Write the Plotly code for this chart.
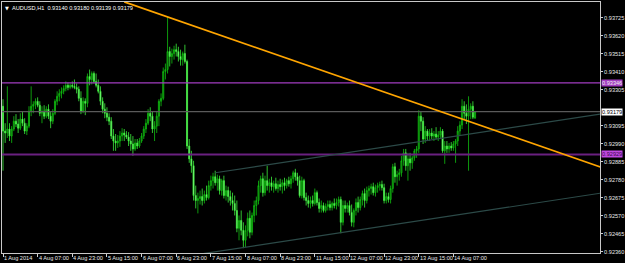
import plotly.graph_objects as go

bars = list(range(219))

opens = [
0.93210, 0.93065, 0.93054, 0.93077, 0.93036, 0.93077, 0.93123, 0.93106, 0.93082, 0.93135,
0.93111, 0.93065, 0.93094, 0.93181, 0.93210, 0.93221, 0.93239, 0.93216, 0.93169, 0.93181,
0.93152, 0.93193, 0.93152, 0.93123, 0.93169, 0.93239, 0.93268, 0.93285, 0.93297, 0.93314,
0.93332, 0.93320, 0.93332, 0.93326, 0.93320, 0.93309, 0.93256, 0.93181, 0.93239, 0.93227,
0.93384, 0.93366, 0.93401, 0.93355, 0.93332, 0.93297, 0.93239, 0.93193, 0.93169, 0.93146,
0.93123, 0.93036, 0.93007, 0.92996, 0.93007, 0.93036, 0.93054, 0.93042, 0.93030, 0.93007,
0.92990, 0.92961, 0.92996, 0.92978, 0.93007, 0.93036, 0.93077, 0.93111, 0.93169, 0.93152,
0.93077, 0.93094, 0.93152, 0.93239, 0.93256, 0.93413, 0.93424, 0.93529, 0.93500, 0.93517,
0.93540, 0.93529, 0.93500, 0.93482, 0.93517, 0.93471, 0.92978, 0.92903, 0.92863, 0.92689,
0.92660, 0.92672, 0.92683, 0.92660, 0.92695, 0.92677, 0.92747, 0.92776, 0.92799, 0.92764,
0.92787, 0.92718, 0.92776, 0.92689, 0.92718, 0.92683, 0.92660, 0.92643, 0.92602, 0.92498,
0.92544, 0.92486, 0.92428, 0.92486, 0.92556, 0.92475, 0.92573, 0.92631, 0.92660, 0.92747,
0.92787, 0.92706, 0.92776, 0.92747, 0.92764, 0.92741, 0.92758, 0.92730, 0.92753, 0.92741,
0.92764, 0.92747, 0.92776, 0.92758, 0.92787, 0.92822, 0.92799, 0.92776, 0.92689, 0.92776,
0.92677, 0.92660, 0.92643, 0.92660, 0.92643, 0.92706, 0.92648, 0.92614, 0.92631, 0.92602,
0.92625, 0.92637, 0.92619, 0.92643, 0.92631, 0.92648, 0.92666, 0.92533, 0.92631, 0.92614,
0.92631, 0.92590, 0.92533, 0.92602, 0.92648, 0.92619, 0.92666, 0.92701, 0.92660, 0.92718,
0.92730, 0.92741, 0.92706, 0.92735, 0.92747, 0.92753, 0.92735, 0.92660, 0.92683, 0.92666,
0.92730, 0.92857, 0.92799, 0.92811, 0.92822, 0.92892, 0.92938, 0.92863, 0.92903, 0.92880,
0.92909, 0.92950, 0.92961, 0.93152, 0.93123, 0.93019, 0.93065, 0.93036, 0.93054, 0.93036,
0.93048, 0.93030, 0.93042, 0.93065, 0.92950, 0.92978, 0.92961, 0.92978, 0.92967, 0.92990,
0.93007, 0.93065, 0.93100, 0.93210, 0.93169, 0.93152, 0.93193, 0.93210, 0.93140,
]

highs = [
0.93251, 0.93111, 0.93326, 0.93111, 0.93094, 0.93152, 0.93164, 0.93135, 0.93169, 0.93181,
0.93140, 0.93111, 0.93210, 0.93326, 0.93239, 0.93256, 0.93262, 0.93239, 0.93210, 0.93216,
0.93210, 0.93221, 0.93181, 0.93193, 0.93251, 0.93297, 0.93309, 0.93320, 0.93332, 0.93355,
0.93349, 0.93343, 0.93355, 0.93366, 0.93343, 0.93326, 0.93297, 0.93262, 0.93256, 0.93401,
0.93424, 0.93413, 0.93413, 0.93401, 0.93366, 0.93326, 0.93262, 0.93227, 0.93204, 0.93169,
0.93146, 0.93077, 0.93048, 0.93042, 0.93065, 0.93082, 0.93077, 0.93065, 0.93059, 0.93048,
0.93036, 0.93019, 0.93019, 0.93025, 0.93054, 0.93094, 0.93135, 0.93193, 0.93204, 0.93181,
0.93123, 0.93181, 0.93251, 0.93285, 0.93436, 0.93459, 0.93731, 0.93557, 0.93546, 0.93563,
0.93575, 0.93557, 0.93540, 0.93529, 0.93569, 0.93482, 0.93019, 0.92950, 0.92892, 0.92747,
0.92706, 0.92718, 0.92730, 0.92718, 0.92747, 0.92776, 0.92805, 0.92822, 0.92834, 0.92811,
0.92805, 0.92787, 0.92805, 0.92747, 0.92741, 0.92718, 0.92706, 0.92689, 0.92660, 0.92573,
0.92602, 0.92533, 0.92515, 0.92590, 0.92602, 0.92590, 0.92660, 0.92683, 0.92776, 0.92805,
0.92822, 0.92805, 0.92863, 0.92787, 0.92799, 0.92776, 0.92793, 0.92776, 0.92787, 0.92782,
0.92793, 0.92787, 0.92799, 0.92805, 0.92834, 0.92845, 0.92822, 0.92805, 0.92799, 0.92787,
0.92706, 0.92689, 0.92683, 0.92689, 0.92730, 0.92718, 0.92672, 0.92660, 0.92648, 0.92643,
0.92660, 0.92660, 0.92654, 0.92672, 0.92672, 0.92683, 0.92683, 0.92660, 0.92660, 0.92648,
0.92660, 0.92637, 0.92614, 0.92672, 0.92683, 0.92683, 0.92718, 0.92730, 0.92741, 0.92747,
0.92758, 0.92764, 0.92753, 0.92764, 0.92770, 0.92776, 0.92758, 0.92706, 0.92706, 0.92747,
0.92874, 0.92880, 0.92834, 0.92845, 0.92921, 0.92961, 0.92961, 0.92938, 0.92938, 0.92921,
0.92961, 0.92978, 0.93187, 0.93181, 0.93146, 0.93094, 0.93077, 0.93077, 0.93082, 0.93065,
0.93088, 0.93065, 0.93088, 0.93077, 0.93007, 0.93007, 0.92996, 0.93001, 0.93007, 0.93019,
0.93094, 0.93123, 0.93251, 0.93239, 0.93221, 0.93268, 0.93227, 0.93239, 0.93180,
]

lows = [
0.92834, 0.92996, 0.93025, 0.93007, 0.92996, 0.93065, 0.93088, 0.93054, 0.93071, 0.93094,
0.93048, 0.93042, 0.93082, 0.93152, 0.93169, 0.93193, 0.93204, 0.93152, 0.93111, 0.93135,
0.93140, 0.93135, 0.93082, 0.93106, 0.93158, 0.93216, 0.93239, 0.93256, 0.93280, 0.93297,
0.93303, 0.93309, 0.93314, 0.93309, 0.93285, 0.93239, 0.93164, 0.93169, 0.93158, 0.93204,
0.93332, 0.93337, 0.93343, 0.93320, 0.93285, 0.93216, 0.93169, 0.93140, 0.93123, 0.93100,
0.93019, 0.92950, 0.92950, 0.92967, 0.92973, 0.93007, 0.93007, 0.93019, 0.92978, 0.92950,
0.92921, 0.92950, 0.92961, 0.92967, 0.92996, 0.93019, 0.93054, 0.93100, 0.93123, 0.93054,
0.93007, 0.93054, 0.93094, 0.93210, 0.93245, 0.93366, 0.93401, 0.93442, 0.93459, 0.93482,
0.93500, 0.93471, 0.93447, 0.93447, 0.93459, 0.92961, 0.92880, 0.92822, 0.92660, 0.92614,
0.92585, 0.92637, 0.92631, 0.92643, 0.92660, 0.92666, 0.92718, 0.92730, 0.92747, 0.92718,
0.92695, 0.92689, 0.92672, 0.92660, 0.92648, 0.92631, 0.92602, 0.92573, 0.92475, 0.92428,
0.92457, 0.92382, 0.92388, 0.92451, 0.92440, 0.92457, 0.92533, 0.92573, 0.92637, 0.92706,
0.92683, 0.92689, 0.92718, 0.92706, 0.92718, 0.92706, 0.92718, 0.92706, 0.92718, 0.92701,
0.92718, 0.92730, 0.92741, 0.92730, 0.92764, 0.92776, 0.92747, 0.92677, 0.92672, 0.92660,
0.92631, 0.92619, 0.92614, 0.92625, 0.92631, 0.92631, 0.92590, 0.92590, 0.92590, 0.92590,
0.92602, 0.92602, 0.92602, 0.92614, 0.92608, 0.92625, 0.92469, 0.92515, 0.92590, 0.92590,
0.92573, 0.92509, 0.92504, 0.92573, 0.92590, 0.92602, 0.92631, 0.92619, 0.92643, 0.92683,
0.92695, 0.92689, 0.92683, 0.92706, 0.92718, 0.92718, 0.92643, 0.92643, 0.92648, 0.92643,
0.92706, 0.92764, 0.92747, 0.92776, 0.92799, 0.92863, 0.92834, 0.92776, 0.92834, 0.92845,
0.92892, 0.92909, 0.92938, 0.93065, 0.92990, 0.92996, 0.93007, 0.93007, 0.93019, 0.93007,
0.93019, 0.93007, 0.93019, 0.92938, 0.92874, 0.92938, 0.92938, 0.92950, 0.92950, 0.92880,
0.92978, 0.93036, 0.93077, 0.93135, 0.93106, 0.92834, 0.93135, 0.93135, 0.93139,
]

closes = [
0.93065, 0.93054, 0.93077, 0.93036, 0.93077, 0.93123, 0.93106, 0.93082, 0.93135, 0.93111,
0.93065, 0.93094, 0.93181, 0.93210, 0.93221, 0.93239, 0.93216, 0.93169, 0.93181, 0.93152,
0.93193, 0.93152, 0.93123, 0.93169, 0.93239, 0.93268, 0.93285, 0.93297, 0.93314, 0.93332,
0.93320, 0.93332, 0.93326, 0.93320, 0.93309, 0.93256, 0.93181, 0.93239, 0.93227, 0.93384,
0.93366, 0.93401, 0.93355, 0.93332, 0.93297, 0.93239, 0.93193, 0.93169, 0.93146, 0.93123,
0.93036, 0.93007, 0.92996, 0.93007, 0.93036, 0.93054, 0.93042, 0.93030, 0.93007, 0.92990,
0.92961, 0.92996, 0.92978, 0.93007, 0.93036, 0.93077, 0.93111, 0.93169, 0.93152, 0.93077,
0.93094, 0.93152, 0.93239, 0.93256, 0.93413, 0.93424, 0.93529, 0.93500, 0.93517, 0.93540,
0.93529, 0.93500, 0.93482, 0.93517, 0.93471, 0.92978, 0.92903, 0.92863, 0.92689, 0.92660,
0.92672, 0.92683, 0.92660, 0.92695, 0.92677, 0.92747, 0.92776, 0.92799, 0.92764, 0.92787,
0.92718, 0.92776, 0.92689, 0.92718, 0.92683, 0.92660, 0.92643, 0.92602, 0.92498, 0.92544,
0.92486, 0.92428, 0.92486, 0.92556, 0.92475, 0.92573, 0.92631, 0.92660, 0.92747, 0.92787,
0.92706, 0.92776, 0.92747, 0.92764, 0.92741, 0.92758, 0.92730, 0.92753, 0.92741, 0.92764,
0.92747, 0.92776, 0.92758, 0.92787, 0.92822, 0.92799, 0.92776, 0.92689, 0.92776, 0.92677,
0.92660, 0.92643, 0.92660, 0.92643, 0.92706, 0.92648, 0.92614, 0.92631, 0.92602, 0.92625,
0.92637, 0.92619, 0.92643, 0.92631, 0.92648, 0.92666, 0.92533, 0.92631, 0.92614, 0.92631,
0.92590, 0.92533, 0.92602, 0.92648, 0.92619, 0.92666, 0.92701, 0.92660, 0.92718, 0.92730,
0.92741, 0.92706, 0.92735, 0.92747, 0.92753, 0.92735, 0.92660, 0.92683, 0.92666, 0.92730,
0.92857, 0.92799, 0.92811, 0.92822, 0.92892, 0.92938, 0.92863, 0.92903, 0.92880, 0.92909,
0.92950, 0.92961, 0.93152, 0.93123, 0.93019, 0.93065, 0.93036, 0.93054, 0.93036, 0.93048,
0.93030, 0.93042, 0.93065, 0.92950, 0.92978, 0.92961, 0.92978, 0.92967, 0.92990, 0.93007,
0.93065, 0.93100, 0.93210, 0.93169, 0.93152, 0.93193, 0.93210, 0.93146, 0.93179,
]

x_tick_bars = [0, 16, 32, 48, 64, 80, 96, 112, 128, 144, 160, 176, 192, 208]
x_tick_labels = ["1 Aug 2014", "4 Aug 07:00", "4 Aug 23:00", "5 Aug 15:00", "6 Aug 07:00",
                 "6 Aug 23:00", "7 Aug 15:00", "8 Aug 07:00", "8 Aug 23:00", "11 Aug 15:00",
                 "12 Aug 07:00", "12 Aug 23:00", "13 Aug 15:00", "14 Aug 07:00"]
# 0.93200 is hidden behind the last-price label in the reference
y_tick_values = [0.92360, 0.92465, 0.92570, 0.92675, 0.92780, 0.92885, 0.92990, 0.93095,
                 0.93305, 0.93410, 0.93515, 0.93620, 0.93725]

levels = [0.93346, 0.92929]
last_price = 0.93179

orange_line_bars = [56, 276]
orange_line_prices = [0.93819, 0.92855]
upper_channel_bars = [98, 276]
upper_channel_prices = [0.92822, 0.93164]
lower_channel_bars = [88, 276]
lower_channel_prices = [0.92342, 0.92703]

symbol = "AUDUSD,H1"

FONT = "Liberation Sans, Arial, sans-serif"
FS = 5.6

fig = go.Figure()

fig.add_trace(go.Candlestick(
    x=bars, open=opens, high=highs, low=lows, close=closes,
    increasing=dict(line=dict(color="#10c010", width=0.8), fillcolor="#0a5e0a"),
    decreasing=dict(line=dict(color="#3cf03c", width=0.8), fillcolor="#a8ffa8"),
    whiskerwidth=0, showlegend=False, hoverinfo="skip",
))

for lv, col, w in [(levels[0], "#a23cc0", 1.2), (levels[1], "#6a2080", 2)]:
    fig.add_trace(go.Scatter(x=[-1, 277], y=[lv, lv], mode="lines",
                             line=dict(color=col, width=w), showlegend=False, hoverinfo="skip"))
fig.add_trace(go.Scatter(x=[-1, 277], y=[last_price, last_price], mode="lines",
                         line=dict(color="#5a5a5a", width=1.2), showlegend=False, hoverinfo="skip"))

for xs, ys, col, w in [(upper_channel_bars, upper_channel_prices, "#2c4a48", 1.2),
                       (lower_channel_bars, lower_channel_prices, "#2c4a48", 1.2),
                       (orange_line_bars, orange_line_prices, "#ffa500", 1.7)]:
    fig.add_trace(go.Scatter(x=xs, y=ys, mode="lines", line=dict(color=col, width=w),
                             showlegend=False, hoverinfo="skip"))

ann = []
for b, t in zip(x_tick_bars, x_tick_labels):
    ann.append(dict(x=b, y=0, xref="x", yref="paper", text=t, showarrow=False,
                    xanchor="left", yanchor="top", xshift=0, yshift=-1, borderpad=0,
                    font=dict(family=FONT, size=FS, color="#e8e8e8")))

for lv, bg, fc in [(levels[0], "#a23cc0", "#f0f0f0"), (last_price, "#ffffff", "#000000"),
                   (levels[1], "#c048e0", "#3a0a4a")]:
    ann.append(dict(x=1, y=lv, xref="paper", yref="y", text=f"{lv:.5f}", showarrow=False,
                    xanchor="left", yanchor="middle", xshift=1, bgcolor=bg, borderpad=0,
                    font=dict(family=FONT, size=FS, color=fc)))

ann.append(dict(x=0, y=1, xref="paper", yref="paper", text="▼", showarrow=False,
                xanchor="left", yanchor="top", xshift=2, yshift=-2, borderpad=0,
                font=dict(family="DejaVu Sans", size=5, color="#ffffff")))
ann.append(dict(x=0, y=1, xref="paper", yref="paper",
                text=f"{symbol}  {opens[-1]:.5f} {highs[-1]:.5f} {lows[-1]:.5f} {closes[-1]:.5f}",
                showarrow=False, xanchor="left", yanchor="top", xshift=9, yshift=-2, borderpad=0,
                font=dict(family=FONT, size=FS, color="#ffffff")))

fig.update_layout(
    width=625, height=263,
    margin=dict(l=1, r=23, t=1, b=10, pad=0),
    paper_bgcolor="#000000", plot_bgcolor="#000000",
    annotations=ann,
    showlegend=False,
    xaxis=dict(range=[-0.46, 275.7], showgrid=False, zeroline=False, rangeslider=dict(visible=False),
               tickvals=x_tick_bars, showticklabels=False, ticks="outside", ticklen=3,
               tickcolor="#d0d0d0", showline=True, linecolor="#c8c8c8", linewidth=1, mirror=True),
    yaxis=dict(range=[0.92354, 0.93818], side="right", showgrid=False, zeroline=False,
               tickvals=y_tick_values, ticktext=[f"{v:.5f}" for v in y_tick_values],
               ticks="outside", ticklen=2, tickcolor="#d0d0d0",
               tickfont=dict(family=FONT, size=FS, color="#e8e8e8"),
               showline=True, linecolor="#c8c8c8", linewidth=1, mirror=True),
)

fig.write_html("out.html")
